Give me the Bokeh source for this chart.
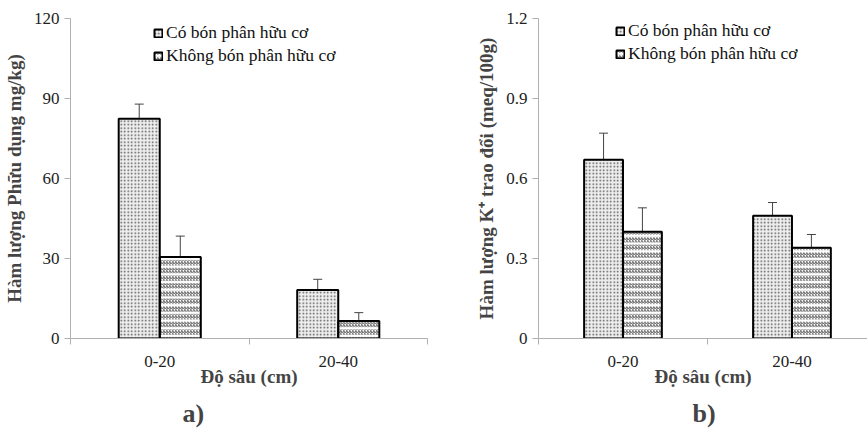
from bokeh.plotting import figure
from bokeh.layouts import row
from bokeh.models import ColumnDataSource, Whisker, FixedTicker, Range1d, Title, TeeHead, Legend, LegendItem
from bokeh.embed import file_html
from bokeh.resources import INLINE

categories = ["0-20", "20-40"]
series = ["Có bón phân hữu cơ", "Không bón phân hữu cơ"]

# Chart a) available P (mg/kg)
a_with = [82.4, 18.2]
a_with_err = [5.5, 4.0]
a_without = [30.6, 6.6]
a_without_err = [7.8, 3.1]
a_yticks = [0, 30, 60, 90, 120]

# Chart b) exchangeable K+ (meq/100g)
b_with = [0.67, 0.46]
b_with_err = [0.10, 0.05]
b_without = [0.40, 0.34]
b_without_err = [0.09, 0.05]
b_yticks = [0, 0.3, 0.6, 0.9, 1.2]

FONT = "Liberation Serif"
BW = 0.23


def make(vals1, err1, vals2, err2, yticks, ylabel, panel, width, border_left, border_right,
         border_top, x_end, leg_x, leg_y, panel_offset):
    n = len(categories)
    x1 = [i + 0.5 - BW / 2 for i in range(n)]
    x2 = [i + 0.5 + BW / 2 for i in range(n)]
    s1 = ColumnDataSource(dict(x=x1, top=vals1, lo=[v - e for v, e in zip(vals1, err1)],
                               hi=[v + e for v, e in zip(vals1, err1)]))
    s2 = ColumnDataSource(dict(x=x2, top=vals2, lo=[v - e for v, e in zip(vals2, err2)],
                               hi=[v + e for v, e in zip(vals2, err2)]))
    p = figure(width=width, height=439, output_backend="svg", toolbar_location=None,
               x_range=Range1d(0, x_end), y_range=Range1d(yticks[0], yticks[-1]),
               min_border_left=border_left, min_border_right=border_right,
               min_border_top=border_top, min_border_bottom=101)
    p.outline_line_color = None
    p.grid.visible = False
    p.background_fill_color = "white"

    r1 = p.vbar(x="x", top="top", bottom=0, width=BW, source=s1, fill_color="#eeeeee",
                line_color=None, hatch_pattern="dot", hatch_color="#555555",
                hatch_scale=3.5, hatch_weight=1)
    r2 = p.vbar(x="x", top="top", bottom=0, width=BW, source=s2, fill_color="white",
                line_color=None, hatch_pattern="right_diagonal_line",
                hatch_color="#555555", hatch_scale=3.0, hatch_weight=1)
    r2b = p.vbar(x="x", top="top", bottom=0, width=BW, source=s2, fill_alpha=0,
                 line_color=None, hatch_pattern="horizontal_line",
                 hatch_color="white", hatch_scale=7.7, hatch_weight=2.5)
    o1 = p.vbar(x="x", top="top", bottom=0, width=BW, source=s1, fill_alpha=0,
                line_color="black", line_width=2)
    o2 = p.vbar(x="x", top="top", bottom=0, width=BW, source=s2, fill_alpha=0,
                line_color="black", line_width=2)
    for s in (s1, s2):
        w = Whisker(base="x", upper="hi", lower="lo", source=s, line_color="#444444", line_width=1,
                    upper_head=TeeHead(size=9, line_color="#444444", line_width=1),
                    lower_head=TeeHead(size=9, line_color="#444444", line_width=1))
        p.add_layout(w)

    legend = Legend(items=[LegendItem(label=series[0], renderers=[r1, o1]),
                           LegendItem(label=series[1], renderers=[r2, r2b, o2])],
                    location=(leg_x, leg_y), border_line_color=None, background_fill_alpha=0,
                    padding=0, margin=0, spacing=2, glyph_width=10, glyph_height=10,
                    label_standoff=3, label_text_font=FONT, label_text_font_size="17.5px",
                    label_height=20, label_text_color="#111111")
    p.add_layout(legend)

    xa = p.xaxis[0]
    xa.ticker = FixedTicker(ticks=[i + 0.5 for i in range(n)], minor_ticks=list(range(n + 1)))
    xa.major_label_overrides = {i + 0.5: c for i, c in enumerate(categories)}
    xa.major_tick_out = 0
    xa.major_tick_in = 0
    xa.minor_tick_out = 6
    xa.minor_tick_in = 0
    xa.minor_tick_line_color = "#b0b0b0"
    xa.axis_line_color = "#b0b0b0"
    xa.major_label_text_font = FONT
    xa.major_label_text_font_size = "17px"
    xa.major_label_text_color = "#222222"
    xa.major_label_standoff = 11
    xa.axis_label = "Độ sâu (cm)"
    xa.axis_label_text_font = FONT
    xa.axis_label_text_font_style = "bold"
    xa.axis_label_text_font_size = "19px"
    xa.axis_label_standoff = -4

    ya = p.yaxis[0]
    ya.ticker = FixedTicker(ticks=yticks, minor_ticks=[])
    ya.major_label_overrides = {t: (str(t) if t != 0 else "0") for t in yticks}
    ya.major_tick_out = 6
    ya.major_tick_in = 0
    ya.minor_tick_out = 0
    ya.major_tick_line_color = "#b0b0b0"
    ya.axis_line_color = "#b0b0b0"
    ya.major_label_text_font = FONT
    ya.major_label_text_font_size = "17px"
    ya.major_label_text_color = "#222222"
    ya.major_label_standoff = 5
    ya.axis_label = ylabel
    ya.axis_label_text_font = FONT
    ya.axis_label_text_font_style = "bold"
    ya.axis_label_text_font_size = "19px"
    ya.axis_label_standoff = 6

    t = Title(text=panel, align="left", offset=panel_offset, text_font=FONT,
              text_font_style="bold", text_font_size="26px", standoff=14)
    p.add_layout(t, "below")
    return p


pa = make(a_with, a_with_err, a_without, a_without_err, a_yticks,
          "Hàm lượng Phữu dụng mg/kg)", "a)", 430, 70, 3, 18, 2.0, 83, 272, 112)
pb = make(b_with, b_with_err, b_without, b_without_err, b_yticks,
          "Hàm lượng K⁺ trao đổi (meq/100g)", "b)", 437, 108, 0, 17, 1.947, 77, 274, 154)

layout = row(pa, pb, spacing=0)
open("out.html", "w").write(file_html(layout, INLINE))
